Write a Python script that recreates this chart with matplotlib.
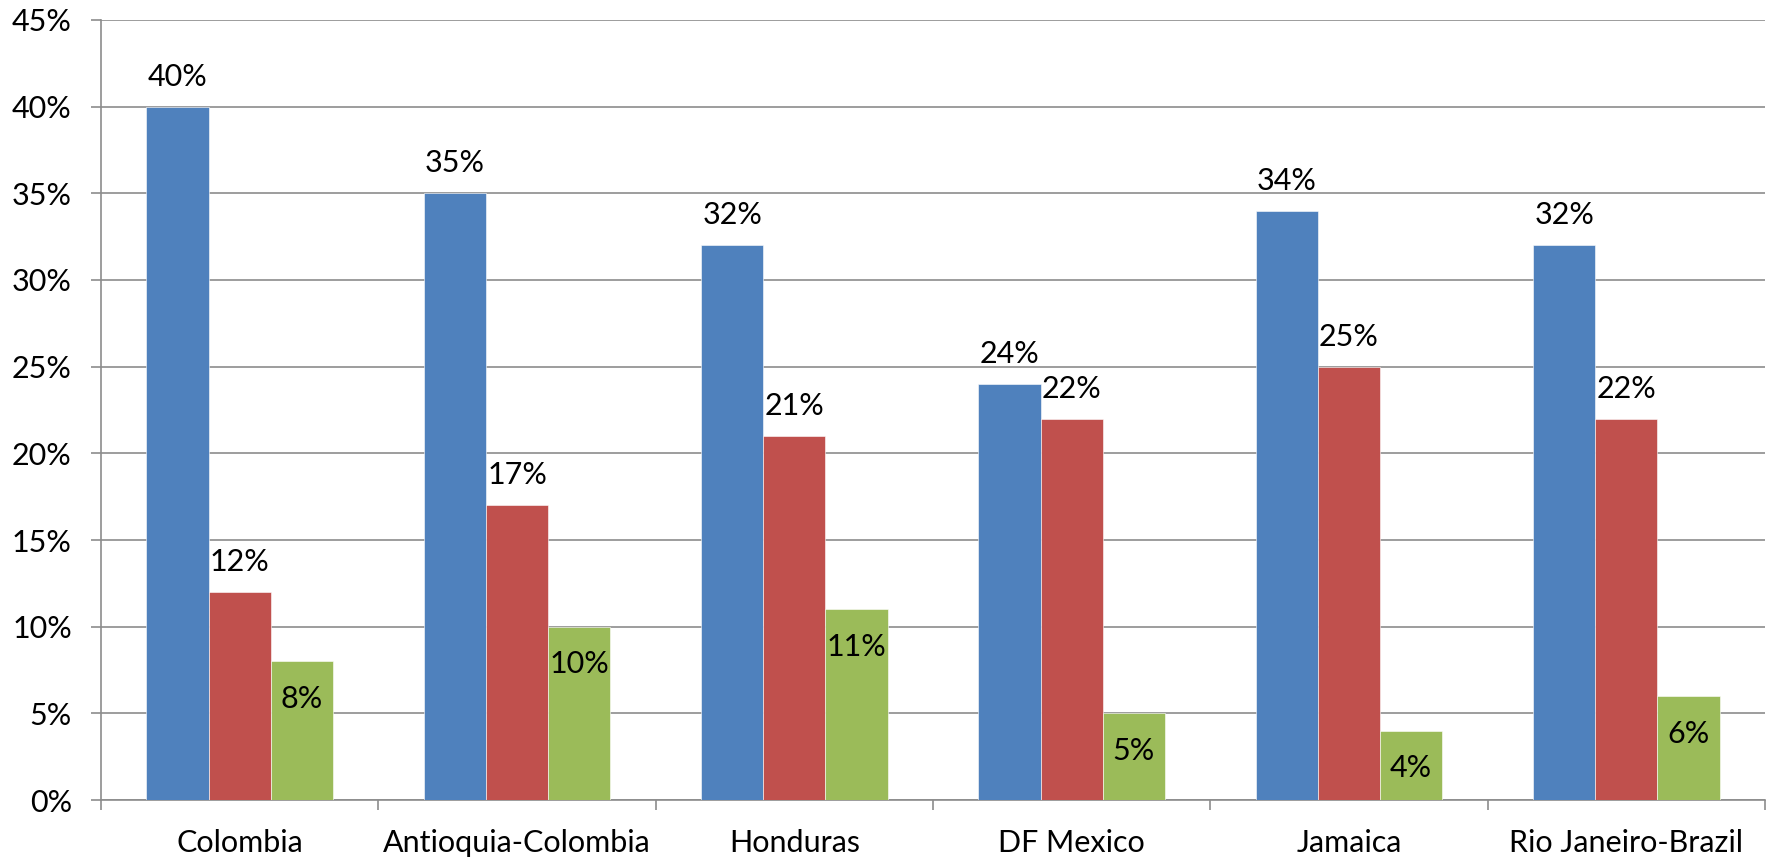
import matplotlib
matplotlib.use("Agg")
import matplotlib.pyplot as plt
import numpy as np

plt.rcParams['font.family'] = ['Lato', 'DejaVu Sans']

categories = ["Colombia", "Antioquia-Colombia", "Honduras", "DF Mexico",
              "Jamaica", "Rio Janeiro-Brazil"]
series_a = [40, 35, 32, 24, 34, 32]
series_b = [12, 17, 21, 22, 25, 22]
series_c = [8, 10, 11, 5, 4, 6]
colors = ["#4F81BD", "#C0504D", "#9BBB59"]
yticks = [0, 5, 10, 15, 20, 25, 30, 35, 40, 45]

W, H, DPI = 1769, 859, 100
fig = plt.figure(figsize=(W / DPI, H / DPI), dpi=DPI)
ax = fig.add_axes([101 / W, 1 - 800 / H, (1765 - 101) / W, (800 - 20) / H])

x = np.arange(len(categories))
bw = 0.224
grid_c = "#8C8C8C"
fs = 22

for k, (vals, col) in enumerate(zip([series_a, series_b, series_c], colors)):
    pos = x + (k - 1) * bw
    ax.bar(pos, vals, width=bw, color=col, edgecolor="white", linewidth=0.4,
           zorder=3)
    for px, v in zip(pos, vals):
        if k < 2:
            ax.annotate(f"{v}%", (px, v), xytext=(0, 15), textcoords="offset points",
                        ha="center", va="baseline", fontsize=fs, zorder=4)
        else:
            ax.annotate(f"{v}%", (px, v), xytext=(0, -17), textcoords="offset points",
                        ha="center", va="top", fontsize=fs, zorder=4)

ax.set_xlim(-0.5, len(categories) - 0.5)
ax.set_ylim(0, 45)
ax.set_yticks(yticks)
ax.set_yticklabels([f"{t}%" for t in yticks], fontsize=fs)
ax.yaxis.grid(True, color=grid_c, linewidth=1.2, zorder=0)

ax.set_xticks(np.arange(-0.5, len(categories), 1.0))
ax.set_xticklabels([])
ax.set_xticks(x, minor=True)
ax.set_xticklabels(categories, minor=True, fontsize=fs)
ax.tick_params(axis="x", which="minor", length=0, pad=21)
ax.tick_params(axis="x", which="major", length=7, width=1.2, color=grid_c)
ax.tick_params(axis="y", length=7, width=1.2, color=grid_c, pad=14)

for s in ["top", "right"]:
    ax.spines[s].set_visible(False)
for s in ["left", "bottom"]:
    ax.spines[s].set_color(grid_c)
    ax.spines[s].set_linewidth(1.2)

fig.savefig("out.png", dpi=DPI, facecolor="white")
